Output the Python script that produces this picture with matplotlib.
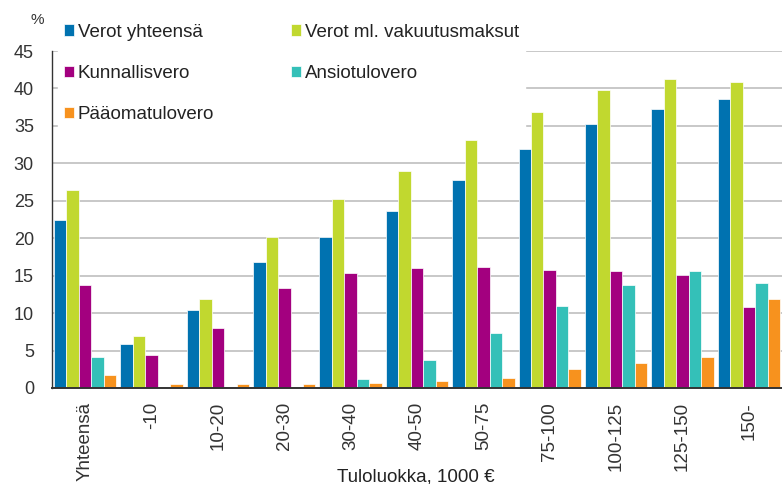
import matplotlib
matplotlib.use("Agg")
import matplotlib.pyplot as plt
import numpy as np

plt.rcParams['font.family'] = ['Liberation Sans', 'DejaVu Sans']

categories = ["Yhteensä", "-10", "10-20", "20-30", "30-40", "40-50", "50-75",
              "75-100", "100-125", "125-150", "150-"]
series_names = ["Verot yhteensä", "Verot ml. vakuutusmaksut", "Kunnallisvero",
                "Ansiotulovero", "Pääomatulovero"]
verot_yhteensa = [22.4, 5.9, 10.4, 16.8, 20.1, 23.7, 27.8, 31.9, 35.3, 37.2, 38.6]
verot_ml_vakuutusmaksut = [26.5, 7.0, 11.9, 20.2, 25.2, 29.0, 33.1, 36.8, 39.8, 41.3, 40.8]
kunnallisvero = [13.8, 4.4, 8.0, 13.4, 15.3, 16.0, 16.2, 15.7, 15.6, 15.1, 10.8]
ansiotulovero = [4.2, 0.0, 0.0, 0.0, 1.2, 3.7, 7.4, 11.0, 13.8, 15.6, 14.0]
paaomatulovero = [1.8, 0.5, 0.5, 0.5, 0.7, 0.9, 1.4, 2.5, 3.3, 4.2, 11.9]
y_ticks = [0, 5, 10, 15, 20, 25, 30, 35, 40, 45]

colors = ["#0072B0", "#C1D82F", "#A3007F", "#34C0B8", "#F7921E"]
data = [verot_yhteensa, verot_ml_vakuutusmaksut, kunnallisvero, ansiotulovero, paaomatulovero]

fig = plt.figure(figsize=(7.82, 4.84), dpi=100)
ax = fig.add_axes([52/782, 1-388/484, 1-52/782, (388-51)/484])

x = np.arange(len(categories))
w = 0.188
handles = []
for i, (vals, c, name) in enumerate(zip(data, colors, series_names)):
    b = ax.bar(x + (i-2)*w, vals, width=w, color=c, edgecolor='white',
               linewidth=0.5, label=name, zorder=3)
    handles.append(b)

ax.set_xlim(-0.5, len(categories)-0.5)
ax.set_ylim(0, 45)
ax.set_yticks(y_ticks)
ax.set_yticklabels([str(t) for t in y_ticks])
ax.set_xticks(x)
ax.set_xticklabels(categories, rotation=90)
ax.tick_params(axis='y', length=0, pad=13, labelsize=13, labelcolor='#333333')
ax.tick_params(axis='x', length=0, pad=10, labelsize=13.5, labelcolor='#333333')
for t in ax.get_xticklabels():
    t.set_va('top')

ax.yaxis.grid(True, color='#C4C4C4', linewidth=1.3, zorder=0)
ax.set_axisbelow(True)
for s in ['top', 'right']:
    ax.spines[s].set_visible(False)
ax.spines['left'].set_color('#333333')
ax.spines['left'].set_linewidth(1.0)
ax.spines['bottom'].set_color('#333333')
ax.spines['bottom'].set_linewidth(1.4)
ax.spines['bottom'].set_zorder(4)

order = [0, 2, 4, 1, 3]
leg = ax.legend([handles[i] for i in order], [series_names[i] for i in order],
                ncol=2, loc='upper left', bbox_to_anchor=(58/782, 1-18/484),
                bbox_transform=fig.transFigure, frameon=True, fancybox=False,
                framealpha=1.0, edgecolor='white', facecolor='white',
                fontsize=13.5, handlelength=0.55, handleheight=0.55,
                handletextpad=0.2, labelspacing=1.3, columnspacing=4.1,
                borderpad=0.3, borderaxespad=0)
leg.set_zorder(5)
for t in leg.get_texts():
    t.set_color('#222222')

fig.text(37/782, 1-20/484, "%", fontsize=11, color='#333333', ha='center', va='center')
fig.text(416/782, 1-477/484, "Tuloluokka, 1000 €", fontsize=13.5, color='#222222',
         ha='center', va='center')

fig.savefig("out.png", dpi=100)
